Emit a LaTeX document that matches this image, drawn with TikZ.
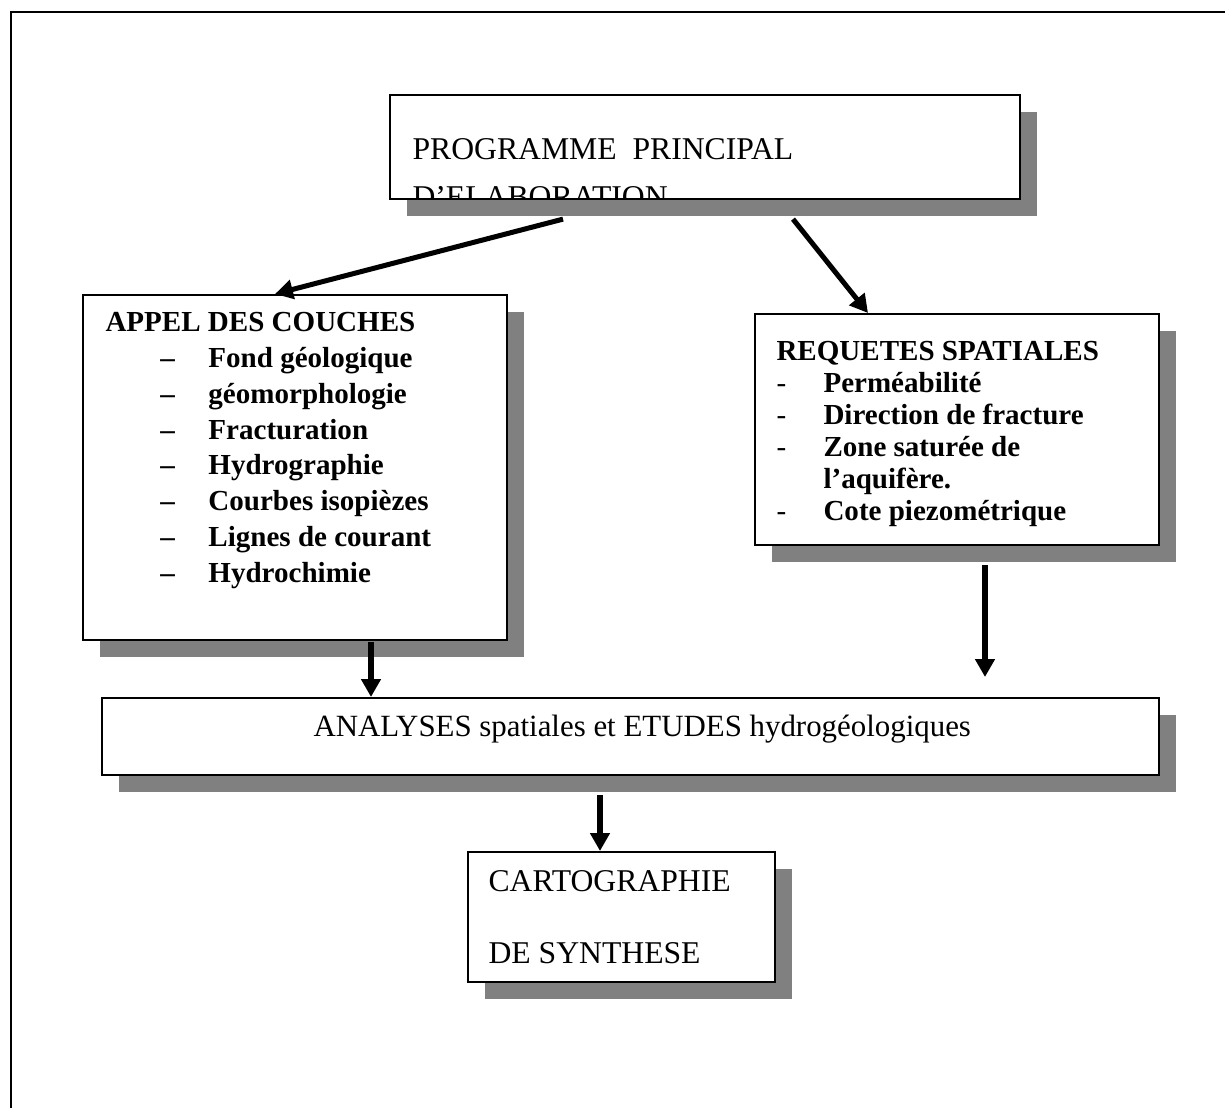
\documentclass[tikz,border=0pt]{standalone}
\usepackage{fontspec}
\setmainfont{Liberation Serif}
\usetikzlibrary{arrows.meta,calc,shadows}

\begin{document}
\begin{tikzpicture}[x=0.3788pt, y=-0.3788pt,
        boite/.style={draw, line width=0.8pt, fill=white, anchor=north west, inner sep=0pt,
            drop shadow={shadow xshift=6.3pt, shadow yshift=-6.3pt, fill=black!50, opacity=1}},
        texte/.style={anchor=base west, inner sep=0pt, font=\fontsize{12}{14}\selectfont},
        fleche/.style={line width=1.9pt, -{Triangle[length=6.8pt, width=7.2pt]}}]
        \useasboundingbox (0,0) rectangle (1225,1108);
        \draw[line width=1.1pt] (11,1108) -- (11,12) -- (1225,12);

        \node[boite, minimum width=238.6pt, minimum height=39.4pt] (prog) at (389,94) {};
        \node[boite, minimum width=160.6pt, minimum height=130.7pt] (couches) at (82,294) {};
        \node[boite, minimum width=153pt, minimum height=87.5pt] (requetes) at (754,313) {};
        \node[boite, minimum width=400.4pt, minimum height=29.2pt] (analyses) at (101,697) {};
        \node[boite, minimum width=116.3pt, minimum height=49.2pt] (synthese) at (467,851) {};

        \node[texte] (titre1) at (412,160) {PROGRAMME\ \ PRINCIPAL};
        % la seconde ligne deborde du cadre
        \begin{scope}
            \clip (prog.north west) rectangle ($(prog.south east)+(0,-1.5)$);
            \node[texte] (titre2) at (412,208) {D'ELABORATION};
        \end{scope}

        \node[texte, font=\bfseries\fontsize{11}{13.53}\selectfont] (listecouches) at (105,332) {%
            \begin{tabular}[t]{@{}p{20.8pt}@{}p{18.2pt}@{}l@{}}
                \multicolumn{3}{@{}l@{}}{APPEL DES COUCHES}\\
                & – & Fond géologique\\
                & – & géomorphologie\\
                & – & Fracturation\\
                & – & Hydrographie\\
                & – & Courbes isopièzes\\
                & – & Lignes de courant\\
                & – & Hydrochimie
            \end{tabular}};

        \node[texte, font=\bfseries\fontsize{11}{12.05}\selectfont] (listerequetes) at (776,361) {%
            \begin{tabular}[t]{@{}p{17.8pt}@{}l@{}}
                \multicolumn{2}{@{}l@{}}{REQUETES SPATIALES}\\
                \textmd{-} & Perméabilité\\
                \textmd{-} & Direction de fracture\\
                \textmd{-} & Zone saturée de\\
                & l’aquifère.\\
                \textmd{-} & Cote piezométrique
            \end{tabular}};

        \node[texte, font=\fontsize{11.7}{14}\selectfont] (titre3) at (313,737) {ANALYSES spatiales et ETUDES hydrogéologiques};
        \node[texte] (titre4) at (488,892) {CARTOGRAPHIE};
        \node[texte] (titre5) at (488,964) {DE SYNTHESE};

        \coordinate (d1) at ($(prog.south west)+(174,19)$);
        \coordinate (d2) at ($(prog.south west)+(404,19)$);
        \draw[fleche] (d1) -- ($(couches.north west)+(193,0)$);
        \draw[fleche] (d2) -- ($(requetes.north west)+(114,0)$);

        \coordinate (d3) at ($(couches.south west)+(289,1)$);
        \draw[fleche] (d3) -- (d3 |- analyses.north);
        \coordinate (d4) at ($(requetes.south west)+(231,19)$);
        \path (d4 |- analyses.north) ++(0,-20) coordinate (f4);
        \draw[fleche] (d4) -- (f4);
        \coordinate (d5) at ($(analyses.south west)+(499,19)$);
        \draw[fleche] (d5) -- (d5 |- synthese.north);
    \end{tikzpicture}
\end{document}
